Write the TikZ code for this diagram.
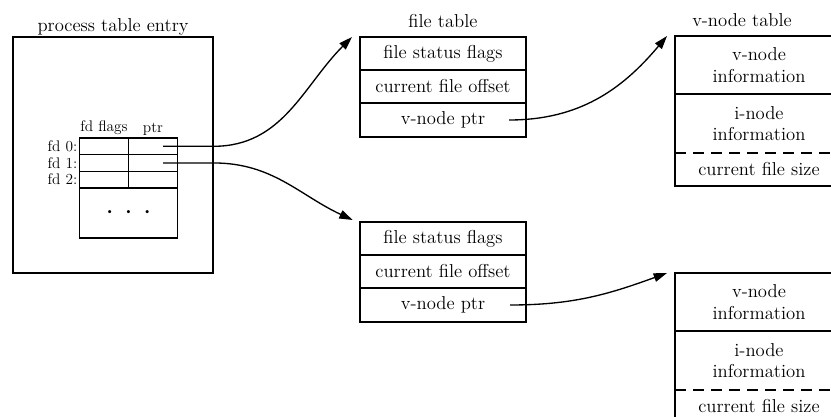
\documentclass[tikz,border=0pt]{standalone}
\usepackage{tikz}
\usetikzlibrary{arrows.meta,positioning}
\newcommand\tablefont{\fontsize{14}{16}\selectfont}
\newcommand\fdfont{\fontsize{11.5}{13}\selectfont}
\tikzstyle{cell} = [rectangle, draw, line width=1pt, outer sep=0pt, inner sep=0pt, align=center, font=\tablefont]
\tikzstyle{fdcell} = [rectangle, draw, line width=1pt, outer sep=0pt, inner sep=0pt, minimum width=36.75pt, minimum height=12.5pt]
\tikzstyle{fdlabel} = [inner sep=0pt, font=\fdfont]
\tikzstyle{heading} = [anchor=base, inner sep=0pt, font=\tablefont]
\tikzstyle{ptrarrow} = [line width=1pt, -{Triangle[length=10pt,width=6.5pt]}]

\begin{document}
\begin{tikzpicture}[x=0.75pt, y=0.75pt]
    \useasboundingbox (0,0) rectangle (831,-417);
    \clip (0,0) rectangle (831,-417);

    % Process table entry
    \node[heading] (ptehead) at (113,-32) {process table entry};
    \node[draw, line width=1pt, inner sep=0pt, minimum width=150pt, minimum height=177pt] (pte) at (113,-155) {};

    % Descriptor table
    \node[fdcell] (flag0) at (104,-146.3) {};
    \node[fdcell, right=0pt of flag0] (ptr0) {};
    \node[fdcell, below=0pt of flag0] (flag1) {};
    \node[fdcell, right=0pt of flag1] (ptr1) {};
    \node[fdcell, below=0pt of flag1] (flag2) {};
    \node[fdcell, right=0pt of flag2] (ptr2) {};
    \node[fdcell, minimum width=73.5pt, minimum height=37.5pt, anchor=north] (rest) at (flag2.south east)
        {\fontsize{8}{8}\selectfont\textbullet\hspace{7.5pt}\textbullet\hspace{7.5pt}\textbullet};
    \node[fdlabel, above=2pt of flag0] (flaghead) {fd flags};
    \node[fdlabel, above=2pt of ptr0] (ptrhead) {ptr};
    \node[fdlabel, left=1.5pt of flag0] (fd0) {fd 0:};
    \node[fdlabel, left=1.5pt of flag1] (fd1) {fd 1:};
    \node[fdlabel, left=1.5pt of flag2] (fd2) {fd 2:};

    % File table entries
    \node[heading] (fthead) at (443,-28) {file table};
    \node[cell, minimum width=124.5pt, minimum height=24.75pt] (fs1) at (443,-53.5) {file status flags};
    \node[cell, minimum width=124.5pt, minimum height=24.75pt, below=0pt of fs1] (co1) {current file offset};
    \node[cell, minimum width=124.5pt, minimum height=25.5pt, below=0pt of co1] (vp1) {v-node ptr};

    \node[cell, minimum width=124.5pt, minimum height=24.75pt] (fs2) at (443,-238.5) {file status flags};
    \node[cell, minimum width=124.5pt, minimum height=24.75pt, below=0pt of fs2] (co2) {current file offset};
    \node[cell, minimum width=124.5pt, minimum height=25.5pt, below=0pt of co2] (vp2) {v-node ptr};

    % V-node table entries
    \node[heading] (vthead) at (742,-27) {v-node table};
    \foreach \n/\y in {1/-65, 2/-302} {
        \node[cell, draw=none, minimum width=126pt, minimum height=43.5pt] (vi\n) at (759,\y) {v-node\\information};
        \node[cell, draw=none, minimum width=126pt, minimum height=44.25pt, below=0pt of vi\n] (ii\n) {i-node\\information};
        \node[cell, draw=none, minimum width=126pt, minimum height=24.75pt, below=0pt of ii\n] (cs\n) {current file size};
        \draw[line width=1pt] (vi\n.north west) rectangle (cs\n.south east);
        \draw[line width=1pt] (vi\n.south west) -- (vi\n.south east);
        \draw[line width=1pt, dash pattern=on 8pt off 5.5pt] (ii\n.south west) -- (ii\n.south east);
    }

    % Pointers
    \draw[ptrarrow] ([xshift=7.5pt]ptr0.center) -- (ptr0.center -| pte.east)
        to[out=0,in=225] ([xshift=-6pt]fs1.north west);
    \draw[ptrarrow] ([xshift=7.5pt]ptr1.center) -- (ptr1.center -| pte.east)
        to[out=0,in=155] ([xshift=-5.5pt,yshift=1.5pt]fs2.north west);
    \draw[ptrarrow] ([xshift=-12.75pt]vp1.east) to[out=0,in=230] ([xshift=-6pt]vi1.north west);
    \draw[ptrarrow] ([xshift=-12pt]vp2.east) to[out=0,in=200] ([xshift=-6pt]vi2.north west);
\end{tikzpicture}
\end{document}
